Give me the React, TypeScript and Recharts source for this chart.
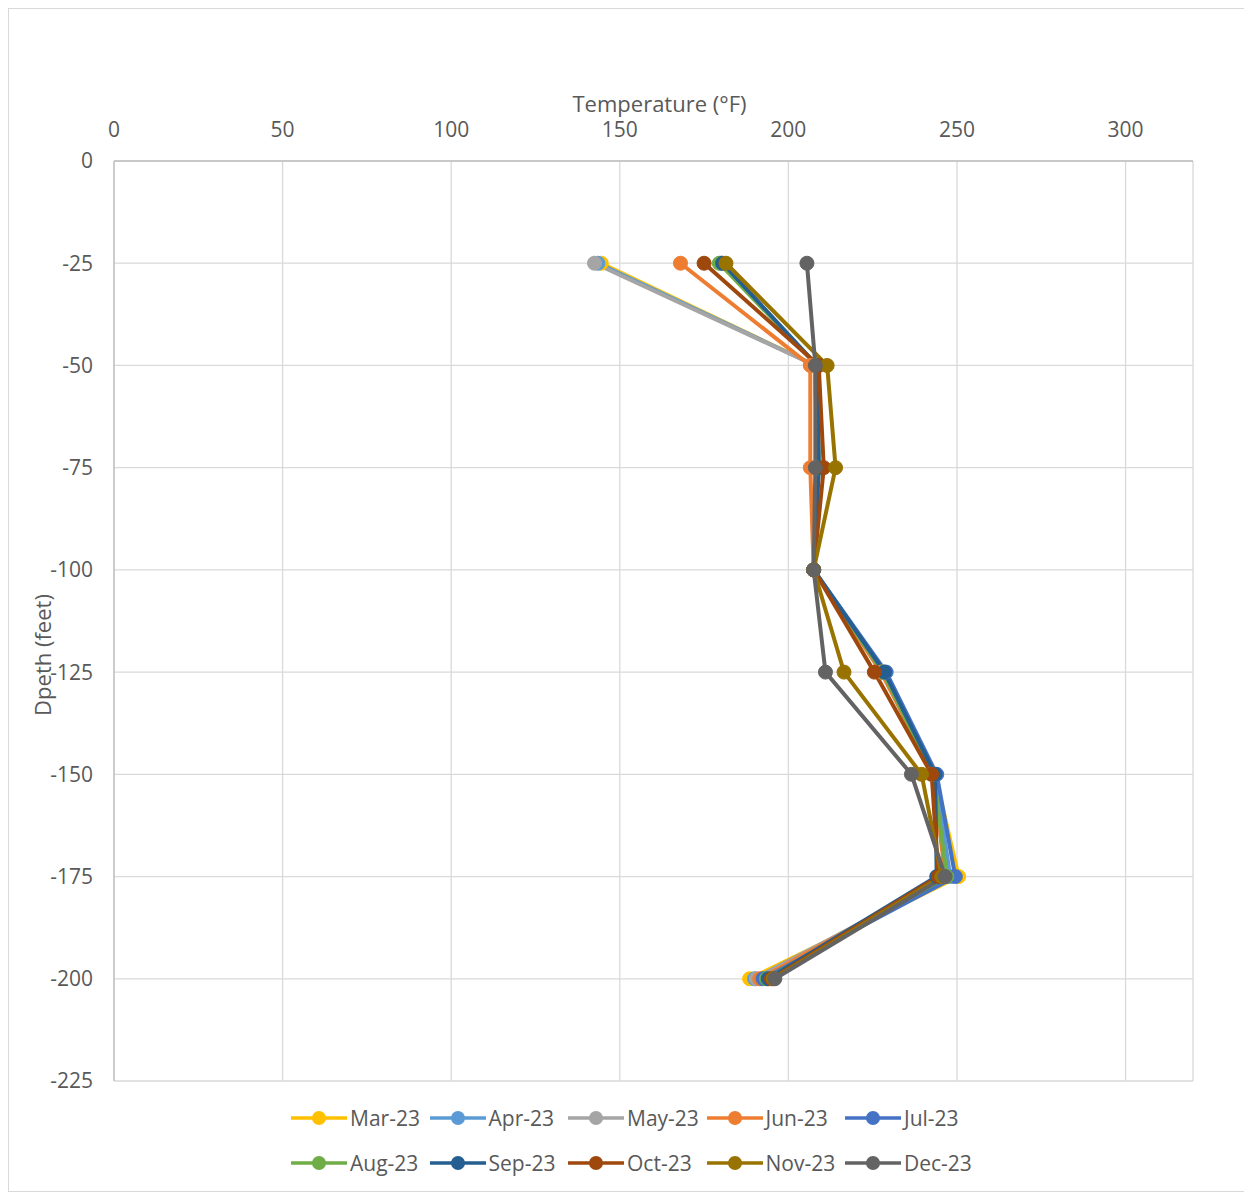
import {
  LineChart,
  Line,
  XAxis,
  YAxis,
  CartesianGrid,
  Legend,
} from "recharts";

// Profundidades (pies) y temperaturas (°F)
const depths = [-25, -50, -75, -100, -125, -150, -175, -200];

const mar23 = [144.5, 208, 208.5, 207.5, 228, 243.5, 250.5, 188.5];
const apr23 = [143.5, 208, 208.5, 207.5, 228.5, 243.5, 248, 190];
const may23 = [142.5, 208, 208.5, 207.5, 228, 242.5, 247, 190.5];
const jun23 = [168, 206.5, 206.5, 207.5, 227.5, 243, 246.5, 191.5];
const jul23 = [180, 208.5, 209, 207.5, 229, 244, 249.5, 192.5];
const aug23 = [179.5, 208.5, 209, 207.5, 228, 243, 247, 193.5];
const sep23 = [180.5, 208.5, 209, 207.5, 228.5, 243.5, 244, 194];
const oct23 = [175, 209, 210.5, 207.5, 225.5, 242.5, 244.5, 195];
const nov23 = [181.5, 211.5, 214, 207.5, 216.5, 239.5, 245.5, 195.5];
const dec23 = [205.5, 208, 208, 207.5, 211, 236.5, 246.5, 196];

const seriesNames = ["Mar-23", "Apr-23", "May-23", "Jun-23", "Jul-23", "Aug-23", "Sep-23", "Oct-23", "Nov-23", "Dec-23"];
const seriesValues = [mar23, apr23, may23, jun23, jul23, aug23, sep23, oct23, nov23, dec23];
const seriesColors = ["#FFC000", "#5B9BD5", "#A5A5A5", "#ED7D31", "#4472C4", "#70AD47", "#255E91", "#9E480E", "#997300", "#636363"];

const tempTicks = [0, 50, 100, 150, 200, 250, 300];
const depthTicks = [0, -25, -50, -75, -100, -125, -150, -175, -200, -225];

const FONT = "'Open Sans', sans-serif";
const TEXT = "#595959";

const data = depths.map((depth, i) => {
  const row: Record<string, number> = { depth };
  seriesNames.forEach((name, s) => {
    row[name] = seriesValues[s][i];
  });
  return row;
});

function LegendRows() {
  const rows = [seriesNames.slice(0, 5), seriesNames.slice(5)];
  return (
    <div style={{ paddingTop: 14, paddingLeft: 282, fontFamily: FONT, fontSize: 21, color: TEXT }}>
      {rows.map((row, r) => (
        <div key={r} style={{ display: "flex", height: 45, alignItems: "center" }}>
          {row.map((name) => {
            const color = seriesColors[seriesNames.indexOf(name)];
            return (
              <div key={name} style={{ display: "flex", alignItems: "center", width: 138.5 }}>
                <svg width={56} height={16} style={{ marginRight: 3 }}>
                  <line x1={0} y1={8} x2={56} y2={8} stroke={color} strokeWidth={3.5} />
                  <circle cx={28} cy={8} r={7} fill={color} />
                </svg>
                <span>{name}</span>
              </div>
            );
          })}
        </div>
      ))}
    </div>
  );
}

// título del eje Y, girado, algo por debajo del centro como en Excel
function DepthTitle(props: any) {
  const vb = props.viewBox || { x: 0, y: 0, width: 0, height: 0 };
  const cx = vb.x + 13;
  const cy = vb.y + vb.height / 2 + 34;
  return (
    <text
      x={cx}
      y={cy}
      transform={`rotate(-90 ${cx} ${cy})`}
      textAnchor="middle"
      dominantBaseline="central"
      fill={TEXT}
      fontSize={22}
      fontFamily={FONT}
    >
      Dpeth (feet)
    </text>
  );
}

export default function App() {
  return (
    <div style={{ width: 1236, height: 1182, border: "1px solid #d9d9d9", background: "#fff" }}>
      <LineChart
        width={1236}
        height={1182}
        data={data}
        layout="vertical"
        margin={{ top: 82, right: 52, left: 20, bottom: 6 }}
      >
        <CartesianGrid stroke="#d9d9d9" strokeWidth={1.3} />
        <XAxis
          type="number"
          orientation="top"
          domain={[0, 320]}
          ticks={tempTicks}
          height={70}
          tickLine={false}
          tickSize={0}
          tickMargin={24}
          axisLine={{ stroke: "#bfbfbf", strokeWidth: 1.3 }}
          tick={{ fill: TEXT, fontSize: 21, fontFamily: FONT }}
          label={{
            value: "Temperature (°F)",
            position: "insideTop",
            offset: 5,
            dx: 6,
            fill: TEXT,
            fontSize: 22,
            fontFamily: FONT,
          }}
        />
        <YAxis
          type="number"
          dataKey="depth"
          domain={[-225, 0]}
          ticks={depthTicks}
          reversed
          width={85}
          tickLine={false}
          tickSize={0}
          tickMargin={21}
          axisLine={{ stroke: "#bfbfbf", strokeWidth: 1.3 }}
          tick={{ fill: TEXT, fontSize: 21, fontFamily: FONT }}
          label={<DepthTitle />}
        />
        <Legend
          verticalAlign="bottom"
          content={() => <LegendRows />}
          wrapperStyle={{ left: 0, width: 1236, bottom: 6 }}
        />
        {seriesNames.map((name, s) => (
          <Line
            key={name}
            dataKey={name}
            name={name}
            stroke={seriesColors[s]}
            strokeWidth={4}
            dot={{ r: 7, fill: seriesColors[s], stroke: seriesColors[s], strokeWidth: 1 }}
            activeDot={false}
            isAnimationActive={false}
          />
        ))}
      </LineChart>
    </div>
  );
}
